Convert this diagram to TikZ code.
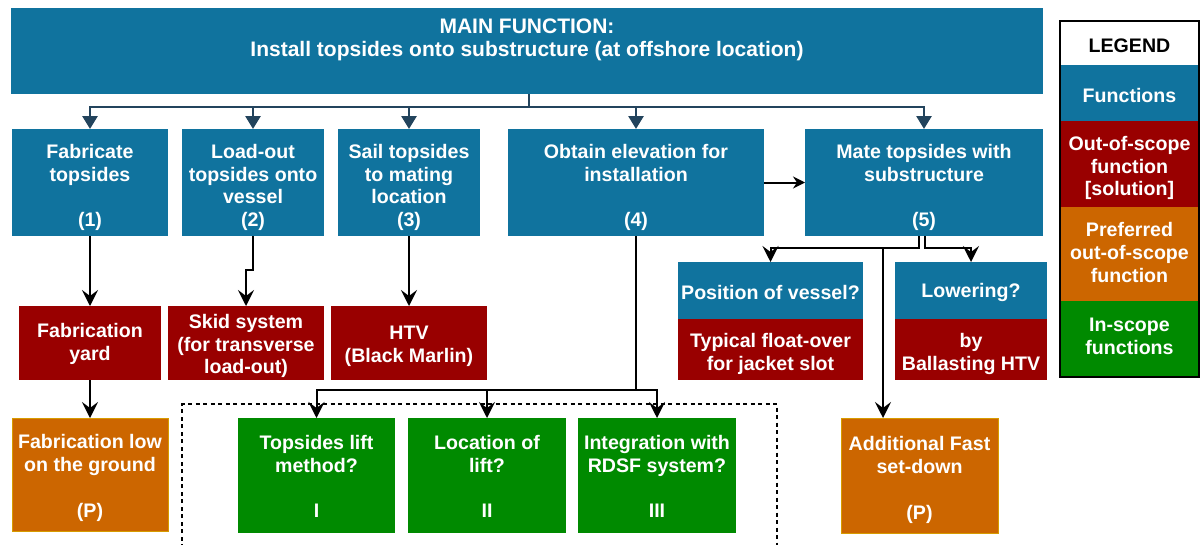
\documentclass[tikz,border=0pt]{standalone}
\usepackage{fontspec}
\setmainfont{Liberation Sans}
\usetikzlibrary{arrows.meta}

\definecolor{fnblue}{HTML}{10739E}
\definecolor{oosred}{HTML}{990000}
\definecolor{preforange}{HTML}{CC6600}
\definecolor{orangeedge}{HTML}{D79B00}
\definecolor{insgreen}{HTML}{008A00}
\definecolor{linkblue}{HTML}{23445D}

% #1 box style, #2 name, #3 centre, #4 width, #5 height, #6 text offset, #7 text
\newcommand{\labelledbox}[7]{%
  \node[#1, minimum width=#4pt, minimum height=#5pt] (#2) at (#3) {};
  \node[boxtext, yshift=#6pt] (#2-text) at (#2.center) {#7};}

\begin{document}
\begin{tikzpicture}[x=1pt,y=-1pt,
  box/.style={rectangle, inner sep=0pt, outer sep=0pt},
  boxtext/.style={inner sep=0pt, text=white, align=center,
    font=\bfseries\fontsize{19.6}{22.8}\selectfont},
  fnbox/.style={box, fill=fnblue},
  oosbox/.style={box, fill=oosred},
  prefbox/.style={box, fill=preforange, draw=orangeedge, line width=0.8pt},
  insbox/.style={box, fill=insgreen},
  toplink/.style={draw=linkblue, line width=2.8pt,
    -{Triangle[length=13pt,width=15pt]}},
  arr/.style={draw=black, line width=2pt,
    -{Stealth[length=16pt,width=16pt,inset=6pt]}},
  smallarr/.style={draw=black, line width=2pt,
    -{Stealth[length=12pt,width=12pt,inset=4pt]}},
  plain/.style={draw=black, line width=2pt},
]
\useasboundingbox (0,0) rectangle (1200,544);

% main function
\node[fnbox, minimum width=1032pt, minimum height=86pt] (main) at (527,51) {};
\node[boxtext, font=\bfseries\fontsize{21}{23}\selectfont] (maintitle) at (527,39.5)
  {MAIN FUNCTION:\\Install topsides onto substructure (at offshore location)};

% sub-functions
\labelledbox{fnbox}{f1}{90,182.5}{156}{107}{-5}{Fabricate\\topsides\\\mbox{}\\(1)}
\labelledbox{fnbox}{f2}{253,182.5}{142}{107}{-5}{Load-out\\topsides onto\\vessel\\(2)}
\labelledbox{fnbox}{f3}{409,182.5}{142}{107}{-5}{Sail topsides\\to mating\\location\\(3)}
\labelledbox{fnbox}{f4}{636,182.5}{256}{107}{-5}{Obtain elevation for\\installation\\\mbox{}\\(4)}
\labelledbox{fnbox}{f5}{924,182.5}{238}{107}{-5}{Mate topsides with\\substructure\\\mbox{}\\(5)}

% out-of-scope solutions
\labelledbox{oosbox}{r1}{90,343}{142}{74}{-1}{Fabrication\\yard}
\labelledbox{oosbox}{r2}{246,343}{156}{74}{-3}{Skid system\\(for transverse\\load-out)}
\labelledbox{oosbox}{r3}{409,343}{156}{74}{-3}{HTV\\(Black Marlin)}

% sub-functions of (5) with their solutions
\labelledbox{fnbox}{pv}{770.5,290.5}{185}{57}{-2}{Position of vessel?}
\labelledbox{oosbox}{pvs}{770.5,349.5}{185}{61}{-4.5}{Typical float-over\\for jacket slot}
\labelledbox{fnbox}{lw}{971,290.5}{152}{57}{-2}{Lowering?}
\labelledbox{oosbox}{lws}{971,349.5}{152}{61}{-4.5}{by\\Ballasting HTV}

% bottom row
\labelledbox{prefbox}{o1}{90,474.5}{156}{113}{-3.5}{Fabrication low\\on the ground\\\mbox{}\\(P)}
\labelledbox{insbox}{g1}{316.5,475.5}{157}{115}{-1}{Topsides lift\\method?\\\mbox{}\\I}
\labelledbox{insbox}{g2}{487,475.5}{158}{115}{-1}{Location of\\lift?\\\mbox{}\\II}
\labelledbox{insbox}{g3}{657,475.5}{158}{115}{-1}{Integration with\\RDSF system?\\\mbox{}\\III}
\labelledbox{prefbox}{o2}{919.5,475.5}{157}{115}{-4.5}{Additional Fast\\set-down\\\mbox{}\\(P)}

% in-scope group frame
\draw[black, line width=1.2pt, dash pattern=on 4pt off 3.5pt]
  (182,548) -- (182,404) -- (777,404) -- (777,548);

% legend
\node[box, fill=white, minimum width=139pt, minimum height=44pt] (lg0) at (1129.5,43) {};
\node[boxtext, text=black, yshift=-3pt] (lg0-text) at (lg0.center) {LEGEND};
\labelledbox{fnbox}{lg1}{1129.5,93}{139}{56}{-2}{Functions}
\labelledbox{oosbox}{lg2}{1129.5,164}{139}{86}{-4}{Out-of-scope\\function\\{[}solution{]}}
\labelledbox{box, fill=preforange}{lg3}{1129.5,254}{139}{94}{1.5}{Preferred\\out-of-scope\\function}
\labelledbox{insbox}{lg4}{1129.5,339}{139}{76}{3}{In-scope\\functions}
\draw[black, line width=2pt] (lg0.north west) rectangle (lg4.south east);

% decomposition of the main function
\coordinate (hub) at (529,107);
\draw[toplink] (main.south -| hub) -- (hub) -| (f1.north);
\draw[toplink] (hub) -| (f2.north);
\draw[toplink] (hub) -| (f3.north);
\draw[toplink] (hub) -| (f4.north);
\draw[toplink] (hub) -| (f5.north);

% solutions of the sub-functions
\draw[arr] (f1.south) -- (r1.north);
\draw[arr] (f2.south) -- ++(0,34) -| (r2.north);
\draw[arr] (f3.south) -- (r3.north);
\draw[arr] (r1.south) -- (o1.north);
\draw[smallarr] (f4.east) -- (f5.west);

% elevation splits into the in-scope questions
\coordinate (split4) at (636,390);
\draw[plain] (f4.south) -- (split4);
\draw[arr] (split4) -| (g1.north);
\draw[arr] (split4) -| (g2.north);
\draw[arr] (split4) -| (g3.north);

% mating splits into its questions
\draw[arr] ([xshift=-5pt]f5.south) -- ++(0,12) -| (pv.north);
\draw[arr] ([xshift=1pt]f5.south) -- ++(0,12) -| (lw.north);
\draw[arr] ([xshift=-5pt]f5.south) -- ++(0,12) -| ([xshift=-36.5pt]o2.north);
\end{tikzpicture}
\end{document}
